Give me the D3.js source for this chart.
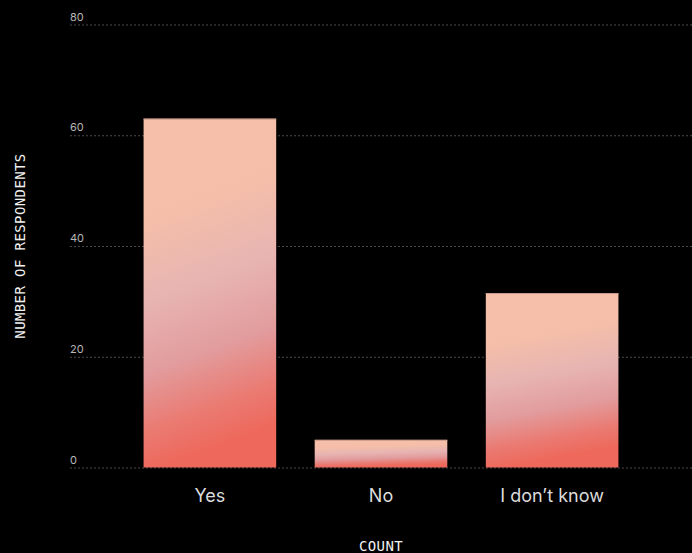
<!DOCTYPE html>
<html>
<head>
<meta charset="utf-8">
<script src="https://cdn.jsdelivr.net/npm/d3@7"></script>
<style>
  html, body { margin: 0; padding: 0; background: #000; }
  svg { display: block; }
</style>
</head>
<body>
<svg id="chart" width="692" height="553"></svg>
<script>
// Survey answers
const categories = ["Yes", "No", "I don\u2019t know"];
const counts = [63, 5, 31.5];
const yTicks = [0, 20, 40, 60, 80];

const W = 692, H = 553;
const plot = { left: 70, right: 692, top: 24.5, bottom: 467.5 };

const svg = d3.select("#chart");
svg.append("rect").attr("width", W).attr("height", H).attr("fill", "#000");

const x = d3.scaleBand()
  .domain(categories)
  .range([plot.left, plot.right])
  .paddingInner(0.225)
  .paddingOuter(0.43);

const y = d3.scaleLinear().domain([0, 80]).range([plot.bottom, plot.top]);

// Bar fill: peach at the top fading through rose into coral at the bottom
const defs = svg.append("defs");
const grad = defs.append("linearGradient")
  .attr("id", "barFill")
  .attr("x1", 0).attr("y1", 0)
  .attr("x2", 0.14).attr("y2", 1);
[
  [0, "#f6bfa9"],
  [0.3, "#f4bea9"],
  [0.52, "#e7b4b2"],
  [0.72, "#e29c9d"],
  [0.88, "#ea7b73"],
  [1, "#ee685b"]
].forEach(([o, c]) => grad.append("stop").attr("offset", o).attr("stop-color", c));

// Dotted gridlines with tick values sitting just above them
const yAxis = d3.axisLeft(y)
  .tickValues(yTicks)
  .tickSize(-(plot.right - plot.left))
  .tickFormat(d3.format("d"));

const gy = svg.append("g")
  .attr("transform", `translate(${plot.left},0)`)
  .call(yAxis);
gy.select(".domain").remove();
gy.selectAll(".tick line")
  .attr("stroke", "#4a4a4a")
  .attr("stroke-width", 1)
  .attr("stroke-dasharray", "2,2");
gy.selectAll(".tick text")
  .attr("x", 0)
  .attr("dy", "-4.5")
  .attr("text-anchor", "start")
  .attr("fill", "#b8b8b8")
  .style("font-family", "Inter, 'Noto Sans', sans-serif")
  .style("font-size", "11px");

// Bars
const bars = svg.append("g");
bars.selectAll("rect")
  .data(categories)
  .join("rect")
  .attr("x", d => x(d))
  .attr("y", (d, i) => y(counts[i]))
  .attr("width", x.bandwidth())
  .attr("height", (d, i) => y(0) - y(counts[i]))
  .attr("fill", "url(#barFill)");

// Thin edge along the top of each bar
bars.selectAll("line")
  .data(categories)
  .join("line")
  .attr("x1", d => x(d))
  .attr("x2", d => x(d) + x.bandwidth())
  .attr("y1", (d, i) => y(counts[i]) + 0.5)
  .attr("y2", (d, i) => y(counts[i]) + 0.5)
  .attr("stroke", "#c99a88")
  .attr("stroke-width", 1);

// Category labels
const xAxis = d3.axisBottom(x).tickSize(0).tickPadding(0);
const gx = svg.append("g")
  .attr("transform", `translate(0,${plot.bottom})`)
  .call(xAxis);
gx.select(".domain").remove();
gx.selectAll(".tick text")
  .attr("y", 34)
  .attr("dy", 0)
  .attr("fill", "#dcdcdc")
  .style("font-family", "Inter, 'Noto Sans', sans-serif")
  .style("font-weight", 400)
  .style("font-size", "18px");

// Axis titles
const titleStyle = sel => sel
  .attr("fill", "#f2f2f2")
  .style("font-family", "'DejaVu Sans Mono', monospace")
  .style("font-weight", "normal")
  .style("letter-spacing", "0.4px")
  .style("font-size", "14px");

svg.append("text")
  .attr("transform", `translate(25,${(plot.top + plot.bottom) / 2}) rotate(-90)`)
  .attr("text-anchor", "middle")
  .text("NUMBER OF RESPONDENTS")
  .call(titleStyle);

svg.append("text")
  .attr("x", (plot.left + plot.right) / 2)
  .attr("y", 550.5)
  .attr("text-anchor", "middle")
  .text("COUNT")
  .call(titleStyle);
</script>
</body>
</html>
